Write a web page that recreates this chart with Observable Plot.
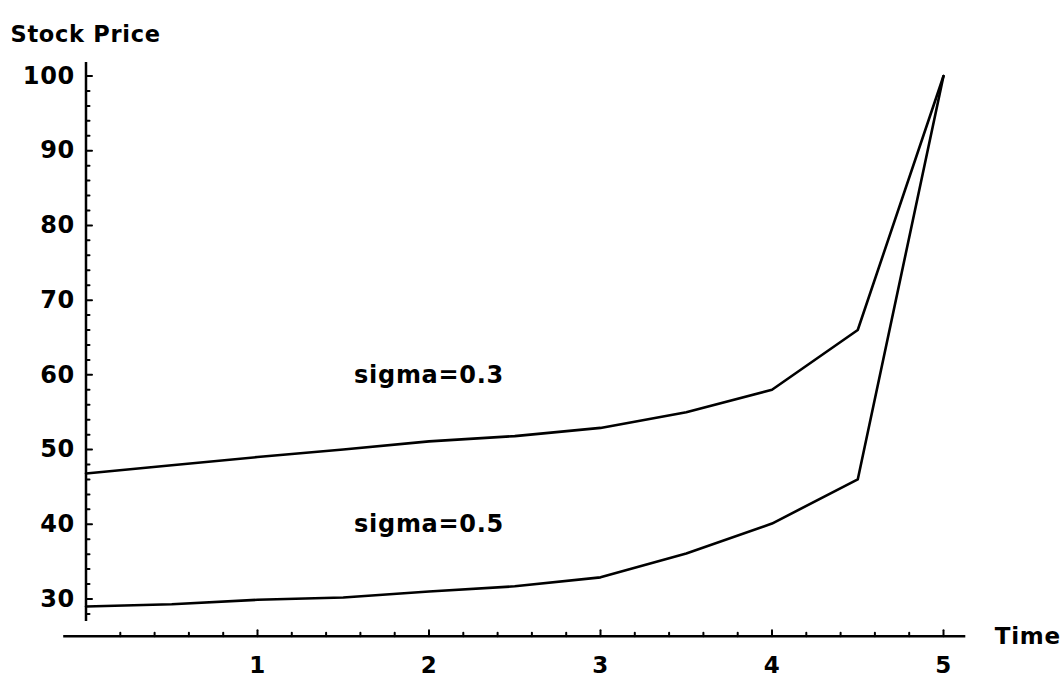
<!DOCTYPE html>
<html>
<head>
<meta charset="utf-8">
<script src="https://cdn.jsdelivr.net/npm/d3@7"></script>
<script src="https://cdn.jsdelivr.net/npm/@observablehq/plot@0.6"></script>
<style>
  html, body { margin: 0; padding: 0; background: #fff; overflow: hidden; }
  #chart svg { display: block; }
  #chart text { letter-spacing: 0.7px; }
</style>
</head>
<body>
<div id="chart"></div>
<script>
// ---- data ----
const time = [0, 0.5, 1, 1.5, 2, 2.5, 3, 3.5, 4, 4.5, 5];
const priceSigma03 = [46.8, 47.9, 49.0, 50.0, 51.1, 51.8, 52.9, 55.0, 58.0, 66.0, 100];
const priceSigma05 = [29.0, 29.3, 29.9, 30.2, 31.0, 31.7, 32.9, 36.1, 40.1, 46.0, 100];
const seriesNames = ["sigma=0.3", "sigma=0.5"];
const labelPos = [{t: 2, p: 60}, {t: 2, p: 40}];
const xMajorTicks = [1, 2, 3, 4, 5];
const yMajorTicks = [30, 40, 50, 60, 70, 80, 90, 100];
const xAxisLabel = "Time";
const yAxisLabel = "Stock Price";

// ---- layout / style constants ----
const FONT = "DejaVu Sans, sans-serif";
const FS = 24;
const xAxisY = 25;             // value where the horizontal axis sits
const xAxisExtent = [-0.13, 5.13];
const yAxisExtent = [27, 101.8];

const rows = [];
time.forEach((t, i) => rows.push({t, p: priceSigma03[i], s: seriesNames[0]}));
time.forEach((t, i) => rows.push({t, p: priceSigma05[i], s: seriesNames[1]}));
const labels = seriesNames.map((s, i) => ({...labelPos[i], s}));

const xMinor = d3.range(1, 26).map(i => +(i * 0.2).toFixed(1)).filter(v => !xMajorTicks.includes(v));
const yMinor = d3.range(28, 101, 2).filter(v => !yMajorTicks.includes(v));

const lineShape = {draw(ctx, l) { ctx.moveTo(0, 0); ctx.lineTo(0, -l); }};

const chart = Plot.plot({
  width: 1062,
  height: 677,
  marginTop: 0, marginLeft: 0, marginRight: 0, marginBottom: 0,
  x: {domain: [0, 5], range: [85.5, 943]},
  y: {domain: [30, 100], range: [598.5, 75.5]},
  axis: null,
  style: {fontFamily: FONT, background: "#fff", color: "#000"},
  marks: [
    // axes lines
    Plot.ruleX([0], {y1: yAxisExtent[0], y2: yAxisExtent[1], stroke: "#000", strokeWidth: 2.5}),
    Plot.ruleY([xAxisY], {x1: xAxisExtent[0], x2: xAxisExtent[1], stroke: "#000", strokeWidth: 2.5}),
    // y ticks
    Plot.vector(yMajorTicks, {x: 0, y: d => d, length: 6, rotate: 90, anchor: "start", shape: lineShape, stroke: "#000", strokeWidth: 2}),
    Plot.vector(yMinor, {x: 0, y: d => d, length: 3.5, rotate: 90, anchor: "start", shape: lineShape, stroke: "#000", strokeWidth: 2}),
    // x ticks
    Plot.vector(xMajorTicks, {x: d => d, y: xAxisY, length: 6, rotate: 0, anchor: "start", shape: lineShape, stroke: "#000", strokeWidth: 2}),
    Plot.vector(xMinor, {x: d => d, y: xAxisY, length: 3.5, rotate: 0, anchor: "start", shape: lineShape, stroke: "#000", strokeWidth: 2}),
    // tick labels
    Plot.text(yMajorTicks, {x: 0, y: d => d, text: d => String(d), textAnchor: "end", dx: -11, fontSize: FS, fontWeight: "bold", fill: "#000"}),
    Plot.text(xMajorTicks, {x: d => d, y: xAxisY, text: d => String(d), textAnchor: "middle", dy: 29.5, fontSize: 23, fontWeight: "bold", fill: "#000"}),
    // axis labels
    Plot.text([xAxisLabel], {x: xAxisExtent[1], y: xAxisY, text: d => d, textAnchor: "start", dx: 29, fontSize: 23, fontWeight: "bold", fill: "#000"}),
    Plot.text([yAxisLabel], {frameAnchor: "top-left", text: d => d, textAnchor: "start", dx: 10, dy: 25.5, fontSize: 22.5, fontWeight: "bold", fill: "#000"}),
    // series
    Plot.line(rows, {x: "t", y: "p", z: "s", stroke: "#000", strokeWidth: 2.6}),
    Plot.text(labels, {x: "t", y: "p", text: "s", textAnchor: "middle", fontSize: FS, fontWeight: "bold", fill: "#000"})
  ]
});
document.getElementById("chart").appendChild(chart);
</script>
</body>
</html>
